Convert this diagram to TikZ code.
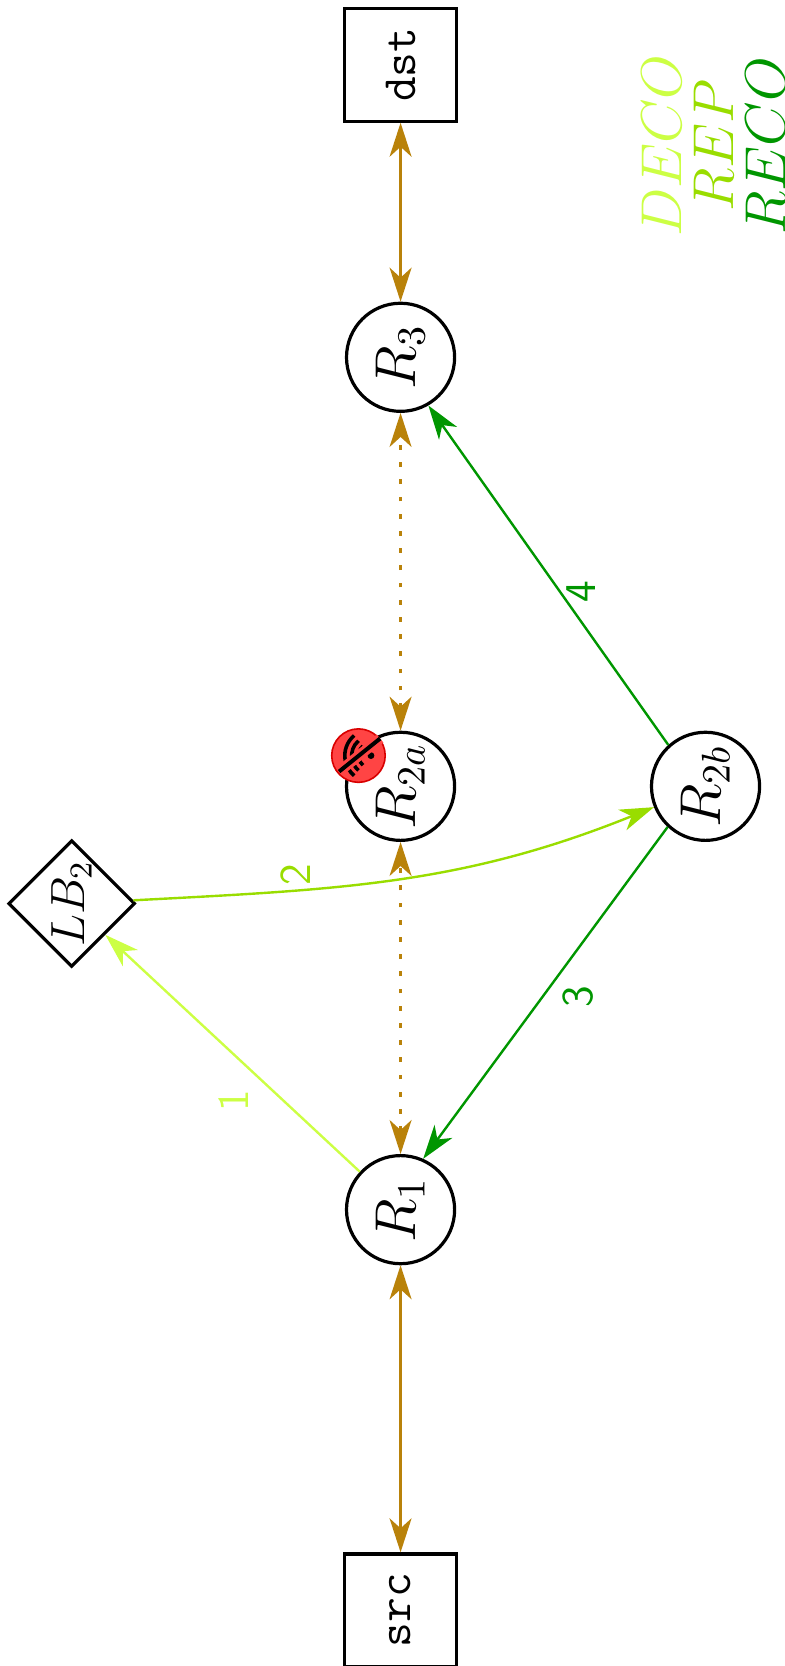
\documentclass[tikz,border=0pt]{standalone}
\usepackage{amsmath}
\usetikzlibrary{arrows.meta,shapes.geometric}

\definecolor{linkbrown}{RGB}{185,130,10}
\definecolor{deco}{RGB}{204,255,68}
\definecolor{rep}{RGB}{153,221,0}
\definecolor{reco}{RGB}{0,150,0}
\definecolor{failred}{RGB}{255,68,68}

\begin{document}
\begin{tikzpicture}[rotate=90,transform shape,
        >={Stealth[length=8.5pt,width=5.5pt,inset=2.5pt]},
        router/.style={circle,draw,thick,minimum size=0.95cm,inner sep=0pt,font=\Large},
        host/.style={rectangle,draw,thick,minimum size=0.99cm,font=\large\ttfamily},
        balancer/.style={diamond,draw,thick,minimum size=1.08cm,inner sep=0pt,font=\large},
        link/.style={linkbrown,semithick,<->},
        lost/.style={dash pattern=on 1.2pt off 3.1pt},
        msg/.style={semithick,->},
        msglabel/.style={font=\sffamily\fontsize{11pt}{13pt}\selectfont,inner sep=0pt}]
        \useasboundingbox (0,0) rectangle (14.64,6.89);

        \node[host] (src) at (0.49,3.37) {src};
        \node[router] (r1) at (4.01,3.37) {$R_1$};
        \node[router] (r2a) at (7.73,3.37) {$R_{2a}$};
        \node[router] (r2b) at (7.73,0.69) {$R_{2b}$};
        \node[router] (r3) at (11.50,3.37) {$R_3$};
        \node[host] (dst) at (14.07,3.37) {dst};
        \node[balancer] (lb2) at (6.70,6.26) {$LB_2$};
        \node[align=center,font=\Large] (legend) at (13.36,0.62)
            {\textcolor{deco}{$DECO$}\\[-5pt]\textcolor{rep}{$REP$}\\[-5pt]\textcolor{reco}{$RECO$}};

        \draw[link] (src) -- (r1);
        \draw[link,lost] (r1) -- (r2a);
        \draw[link,lost] (r2a) -- (r3);
        \draw[link] (r3) -- (dst);

        \draw[msg,deco] (r1) -- node[msglabel,pos=0.30,above=8.5pt] {1} (lb2);
        \draw[msg,rep] (lb2) to[out=-87,in=112] node[msglabel,pos=0.29,right=1pt] {2} (r2b);
        \draw[msg,reco] (r2b.137) -- node[msglabel,pos=0.51,below=4.7pt] {3} (r1.-24);
        \draw[msg,reco] (r2b.42) -- node[msglabel,pos=0.45,below=1.4pt] {4} (r3.210);

        \node[circle,fill=failred,draw=red!85!black,minimum size=0.47cm,inner sep=0pt] (fail) at (8.00,3.74) {};
        \fill (8.00,3.63) circle (0.03);
        \foreach \r in {0.11,0.17,0.23}
            \draw[line width=0.9pt] (8.00,3.63) ++(40:\r) arc (40:140:\r);
        \draw[failred,line width=2.6pt] (7.86,3.91) -- (8.15,3.55);
        \draw[line width=1pt] (7.86,3.91) -- (8.15,3.55);
\end{tikzpicture}
\end{document}
